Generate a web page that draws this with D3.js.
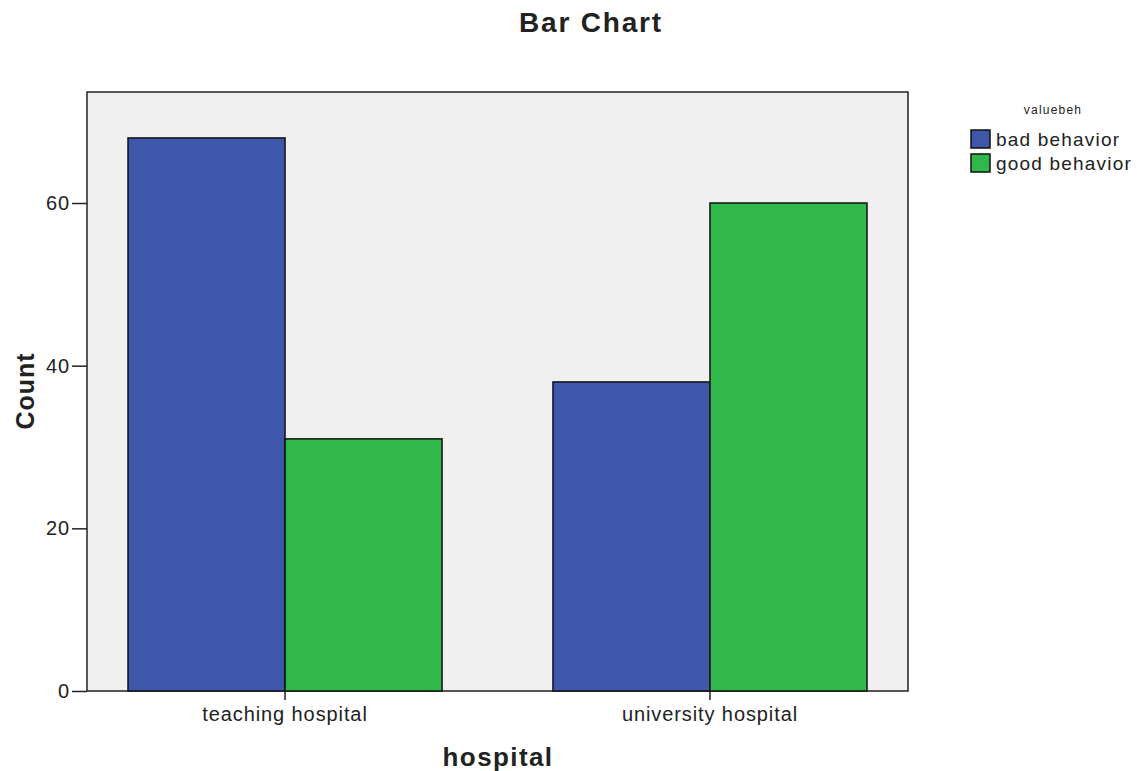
<!DOCTYPE html>
<html>
<head>
<meta charset="utf-8">
<script src="https://cdn.jsdelivr.net/npm/d3@7"></script>
<style>
  body { margin: 0; background: #fff; }
  text { font-family: "Liberation Sans", Arial, sans-serif; fill: #222; }
</style>
</head>
<body>
<script>
// data
var hospitals = ['teaching hospital', 'university hospital'];
var behaviors = ['bad behavior', 'good behavior'];
var badCounts = [68, 38];
var goodCounts = [31, 60];
var yTicks = [0, 20, 40, 60];
var colors = ['#3e57ab', '#30b84a'];

var width = 1138, height = 771;
var margin = {left: 87, top: 92, right: 230, bottom: 80};

var svg = d3.select('body').append('svg')
  .attr('width', width)
  .attr('height', height);

var x = d3.scaleBand()
  .domain(hospitals)
  .range([margin.left, width - margin.right])
  .paddingInner(0.261)
  .paddingOuter(0.0965);

var xInner = d3.scaleBand()
  .domain(behaviors)
  .range([0, x.bandwidth()]);

var y = d3.scaleLinear()
  .domain([0, 73.65])
  .range([height - margin.bottom, margin.top]);

// plot background
svg.append('rect')
  .attr('x', margin.left)
  .attr('y', margin.top)
  .attr('width', width - margin.right - margin.left)
  .attr('height', height - margin.bottom - margin.top)
  .attr('fill', '#f0f0f0')
  .attr('stroke', '#222')
  .attr('stroke-width', 1.5);

var rows = hospitals.map(function(h, i) {
  return {hospital: h, values: [badCounts[i], goodCounts[i]]};
});

var groups = svg.selectAll('g.group')
  .data(rows)
  .enter().append('g')
  .attr('class', 'group')
  .attr('transform', function(d) { return 'translate(' + x(d.hospital) + ',0)'; });

groups.selectAll('rect')
  .data(function(d) { return d.values.map(function(v, j) { return {key: behaviors[j], value: v, i: j}; }); })
  .enter().append('rect')
  .attr('x', function(d) { return xInner(d.key); })
  .attr('y', function(d) { return y(d.value); })
  .attr('width', xInner.bandwidth())
  .attr('height', function(d) { return y(0) - y(d.value); })
  .attr('fill', function(d) { return colors[d.i]; })
  .attr('stroke', '#111')
  .attr('stroke-width', 1.5);

// axes
var yAxis = svg.append('g')
  .attr('transform', 'translate(' + margin.left + ',0)')
  .call(d3.axisLeft(y).tickValues(yTicks).tickSize(15).tickPadding(2));

var xAxis = svg.append('g')
  .attr('transform', 'translate(0,' + (height - margin.bottom) + ')')
  .call(d3.axisBottom(x).tickSize(9).tickPadding(7));

[yAxis, xAxis].forEach(function(a) {
  a.select('.domain').remove();
  a.selectAll('line').attr('stroke', '#222').attr('stroke-width', 1.5);
  a.selectAll('text').style('font-family', '"Liberation Sans", Arial, sans-serif')
    .style('font-size', '20px').style('letter-spacing', '0.9px').attr('fill', '#222');
});

// titles
svg.append('text')
  .attr('x', 591).attr('y', 32)
  .attr('text-anchor', 'middle')
  .style('font-size', '28px').style('font-weight', 'bold').style('letter-spacing', '1.8px')
  .text('Bar Chart');

svg.append('text')
  .attr('transform', 'translate(34,391) rotate(-90)')
  .attr('text-anchor', 'middle')
  .style('font-size', '25px').style('font-weight', 'bold').style('letter-spacing', '1px')
  .text('Count');

svg.append('text')
  .attr('x', 498).attr('y', 766)
  .attr('text-anchor', 'middle')
  .style('font-size', '26px').style('font-weight', 'bold').style('letter-spacing', '1.4px')
  .text('hospital');

// legend
svg.append('text')
  .attr('x', 1053).attr('y', 114)
  .attr('text-anchor', 'middle')
  .style('font-size', '12px').style('letter-spacing', '1.2px')
  .text('valuebeh');

var legend = svg.selectAll('g.legend')
  .data(behaviors)
  .enter().append('g')
  .attr('class', 'legend')
  .attr('transform', function(d, i) { return 'translate(971,' + (130 + i * 24) + ')'; });

legend.append('rect')
  .attr('width', 19).attr('height', 18)
  .attr('fill', function(d, i) { return colors[i]; })
  .attr('stroke', '#111').attr('stroke-width', 1.5);

legend.append('text')
  .attr('x', 25).attr('y', 16)
  .style('font-size', '19px').style('letter-spacing', '1.2px')
  .text(function(d) { return d; });
</script>
</body>
</html>
